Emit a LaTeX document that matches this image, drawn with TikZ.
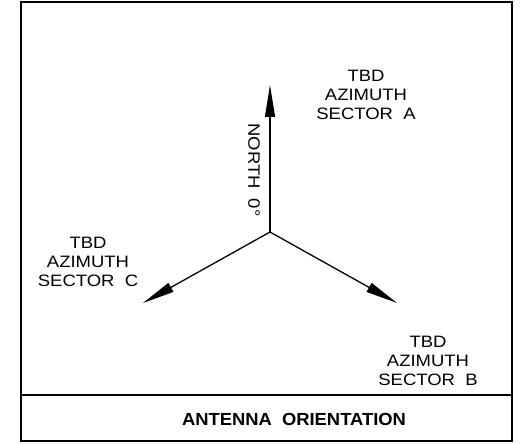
\documentclass[tikz,border=0pt]{standalone}
\usepackage{fontspec}
\setmainfont{Liberation Sans}
\usetikzlibrary{arrows.meta}
\begin{document}
\begin{tikzpicture}[x=1pt,y=-1pt,
  frame/.style={line width=1.8pt},
  vec/.style={line width=1.3pt,-{Triangle[length=32pt,width=10pt]}},
  lbl/.style={align=center,inner sep=0pt,xscale=1.12,font=\fontsize{16.5}{19}\selectfont},
  ttl/.style={inner sep=0pt,xscale=1.05,font=\fontsize{17.5}{20}\selectfont\bfseries}]
\useasboundingbox (0,0) rectangle (523,444);
\draw[frame] (21,2) rectangle (512,441);
\draw[frame] (21,395) -- (512,395);
\coordinate (O) at (270,232);
\coordinate (N) at (270,85);
\coordinate (B) at (397,303);
\coordinate (C) at (143,303);
\draw[vec] (O) -- (N);
\draw[vec] (O) -- (B);
\draw[vec] (O) -- (C);
\node[lbl] (la) at (366,95) {TBD\\AZIMUTH\\SECTOR\ \ A};
\node[lbl] (lc) at (88,262) {TBD\\AZIMUTH\\SECTOR\ \ C};
\node[lbl] (lb) at (428,361) {TBD\\AZIMUTH\\SECTOR\ \ B};
\node[rotate=-90,lbl] (ln) at (254,170) {NORTH\ \ 0°};
\node[ttl] (t) at (294,419) {ANTENNA\ \ ORIENTATION};
\end{tikzpicture}
\end{document}
